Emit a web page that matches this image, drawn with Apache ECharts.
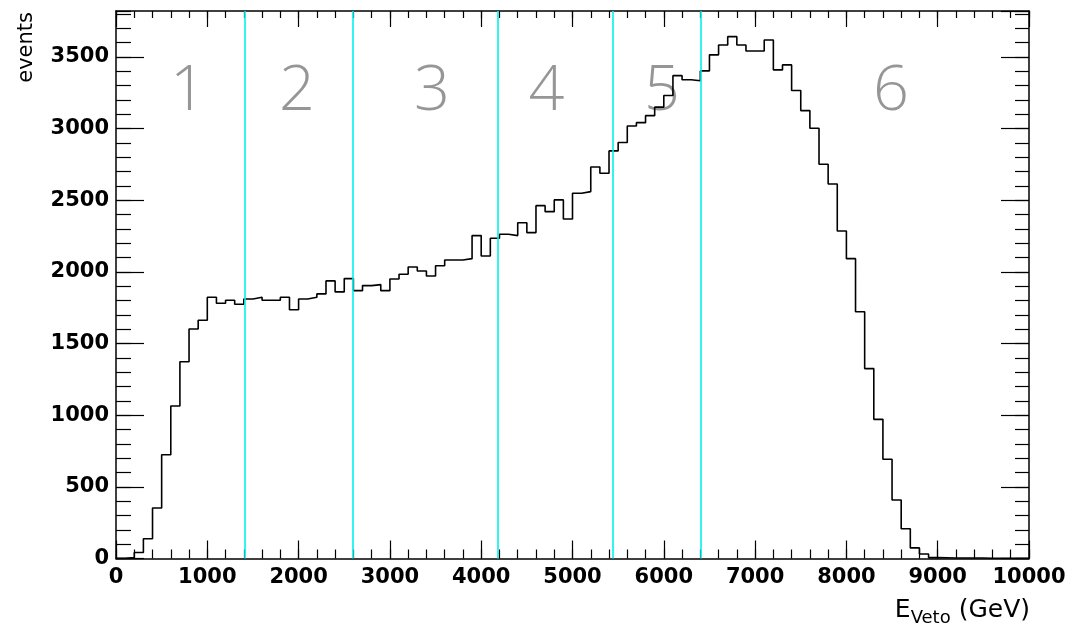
<!DOCTYPE html>
<html>
<head>
<meta charset="utf-8">
<script src="https://cdn.jsdelivr.net/npm/echarts@6/dist/echarts.min.js"></script>
<style>
  html, body { margin: 0; padding: 0; background: #fff; }
  #chart { width: 1090px; height: 628px; }
</style>
</head>
<body>
<div id="chart"></div>
<script>
// histogram: 100 bins of 100 GeV from 0 to 10000
const binStart = 0
const binWidth = 100
const binValues = [
  2, 6, 42, 138, 352, 724, 1064, 1373, 1601, 1662,
  1823, 1781, 1802, 1774, 1811, 1823, 1802, 1802, 1823, 1736,
  1811, 1823, 1846, 1937, 1860, 1953, 1869, 1904, 1911, 1869,
  1950, 1983, 2034, 2006, 1971, 2043, 2083, 2083, 2092, 2253,
  2111, 2234, 2262, 2253, 2343, 2274, 2462, 2420, 2502, 2369,
  2548, 2560, 2732, 2688, 2844, 2902, 3018, 3041, 3090, 3149,
  3230, 3369, 3340, 3333, 3402, 3514, 3583, 3641, 3583, 3541,
  3541, 3618, 3409, 3444, 3265, 3125, 3002, 2751, 2613, 2285,
  2092, 1722, 1325, 971, 692, 408, 208, 74, 31, 6,
  5, 4, 4, 3, 3, 2, 2, 2, 1, 1
]

// region boundaries (cyan lines) and region numbers
const cutValues = [1405, 2590, 4185, 5440, 6405]
const regionLabels = ['1', '2', '3', '4', '5', '6']
const regionLabelX = [788, 1982, 3461, 4716, 5980, 8488]
const regionLabelY = 3258

const xMin = 0, xMax = 10000
const yMin = 0, yMax = 3820

let histPoints = binValues.map((v, i) => [binStart + i * binWidth, v])
histPoints.push([binStart + binValues.length * binWidth, binValues[binValues.length - 1]])

const tickFont = { fontFamily: 'DejaVu Sans', fontWeight: 'bold', fontSize: 21, color: '#000', formatter: v => String(v) }

function xAx(pos, interval, len, labels, line) {
  return {
    type: 'value', position: pos, min: xMin, max: xMax, interval: interval,
    axisLine: { show: line, onZero: false, lineStyle: { color: '#000', width: 1.5 } },
    axisTick: { show: true, inside: true, length: len, lineStyle: { color: '#000', width: 1.2 } },
    axisLabel: labels ? Object.assign({ show: true, margin: 9 }, tickFont) : { show: false },
    splitLine: { show: false }
  }
}
function yAx(pos, interval, len, labels, line) {
  return {
    type: 'value', position: pos, min: yMin, max: yMax, interval: interval,
    axisLine: { show: line, onZero: false, lineStyle: { color: '#000', width: 1.5 } },
    axisTick: { show: true, inside: true, length: len, lineStyle: { color: '#000', width: 1.2 } },
    axisLabel: labels ? Object.assign({ show: true, margin: 7, showMaxLabel: false }, tickFont) : { show: false },
    splitLine: { show: false }
  }
}

const chart = echarts.init(document.getElementById('chart'), null, { renderer: 'canvas' })
chart.setOption({
  animation: false,
  backgroundColor: '#fff',
  grid: { left: 116, right: 61, top: 11, bottom: 69.5 },
  xAxis: [
    xAx('bottom', 1000, 18, true, true),
    xAx('bottom', 200, 9, false, false),
    xAx('top', 1000, 16, false, true),
    xAx('top', 200, 7, false, false)
  ],
  yAxis: [
    yAx('left', 500, 28, true, true),
    yAx('left', 100, 15, false, false),
    yAx('right', 500, 28, false, true),
    yAx('right', 100, 14, false, false)
  ],
  series: [
    {
      type: 'scatter',
      z: 1,
      silent: true,
      symbolSize: 0,
      data: regionLabels.map((t, i) => ({ name: t, value: [regionLabelX[i], regionLabelY] })),
      label: {
        show: true, position: 'inside', formatter: '{b}',
        fontFamily: 'Open Sans', fontWeight: 300, fontSize: 63, color: '#7c7c7c'
      }
    },
    {
      type: 'line',
      z: 3,
      step: 'end',
      symbol: 'none',
      data: histPoints,
      lineStyle: { color: '#000', width: 1.6 },
      markLine: {
        silent: true,
        symbol: 'none',
        label: { show: false },
        lineStyle: { color: '#00f0f0', width: 1.6, type: 'solid' },
        data: cutValues.map(v => ({ xAxis: v }))
      }
    }
  ],
  graphic: [
    {
      type: 'text', x: 27, y: 12, rotation: Math.PI / 2,
      style: {
        text: 'events', fontFamily: 'DejaVu Sans', fontSize: 21, fill: '#000',
        align: 'right', verticalAlign: 'middle', textAlign: 'right', textVerticalAlign: 'middle'
      }
    },
    {
      type: 'text', x: 1030, y: 610,
      style: {
        text: '{a|E}{b|Veto}{a| (GeV)}',
        align: 'right', verticalAlign: 'middle', textAlign: 'right', textVerticalAlign: 'middle',
        rich: {
          a: { fontFamily: 'DejaVu Sans', fontSize: 25, lineHeight: 34, fill: '#000', color: '#000' },
          b: { fontFamily: 'DejaVu Sans', fontSize: 18, lineHeight: 18, verticalAlign: 'bottom', fill: '#000', color: '#000' }
        }
      }
    }
  ]
})
</script>
</body>
</html>
